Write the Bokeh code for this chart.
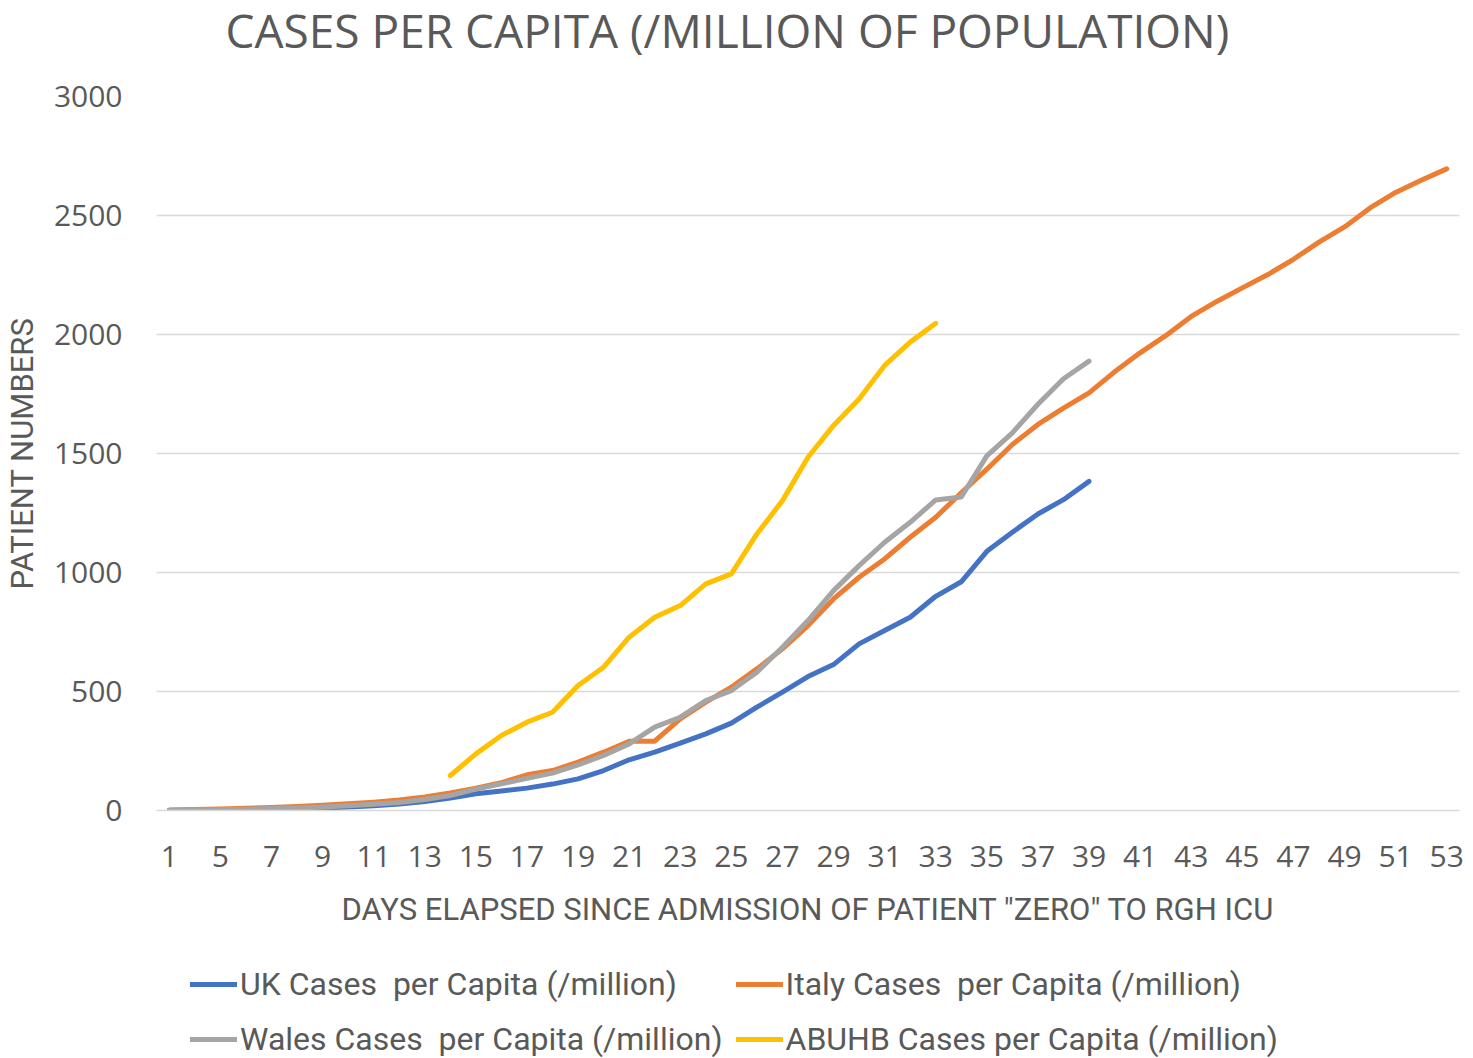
from bokeh.plotting import figure
from bokeh.models import FixedTicker, Legend, LegendItem, Range1d, Label
from bokeh.layouts import column
from bokeh.embed import file_html
from bokeh.resources import INLINE

# category labels (x axis) - one per data point
days = [1, 3, 5, 6, 7, 8, 9, 10, 11, 12, 13, 14, 15, 16, 17, 18, 19, 20, 21, 22,
        23, 24, 25, 26, 27, 28, 29, 30, 31, 32, 33, 34, 35, 36, 37, 38, 39, 40,
        41, 42, 43, 44, 45, 46, 47, 48, 49, 50, 51, 52, 53]

uk = [0, 1, 2, 4, 6, 8, 11, 15, 20, 27, 38, 52, 70, 82, 94, 111, 133, 168, 213,
      245, 283, 322, 367, 434, 497, 563, 613, 700, 756, 812, 900, 961, 1089, 1169,
      1246, 1306, 1383]
italy = [2, 4, 6, 9, 13, 17, 22, 28, 35, 44, 57, 74, 94, 117, 150, 168, 203, 245,
         291, 291, 385, 455, 518, 595, 679, 777, 889, 980, 1057, 1148, 1232, 1335,
         1434, 1538, 1622, 1691, 1755, 1843, 1923, 1995, 2076, 2139, 2196, 2252,
         2316, 2388, 2452, 2532, 2597, 2648, 2696]
wales = [1, 2, 3, 5, 8, 11, 15, 20, 26, 34, 46, 63, 90, 112, 135, 157, 192, 231,
         280, 350, 392, 462, 504, 581, 686, 798, 924, 1029, 1127, 1211, 1305, 1317,
         1490, 1587, 1707, 1814, 1888]
abuhb_first_day = 14
abuhb = [147, 238, 315, 371, 413, 525, 602, 728, 812, 861, 952, 994, 1162, 1302,
         1484, 1618, 1729, 1870, 1968, 2047]

series_names = ["UK Cases  per Capita (/million)",
                "Italy Cases  per Capita (/million)",
                "Wales Cases  per Capita (/million)",
                "ABUHB Cases per Capita (/million)"]
series_colors = ["#4472C4", "#ED7D31", "#A5A5A5", "#FFC000"]

y_ticks = [0, 500, 1000, 1500, 2000, 2500, 3000]

chart_title = "CASES PER CAPITA (/MILLION OF POPULATION)"

TXT = "#595959"
W = 1473


def strip(height):
    f = figure(width=W, height=height, output_backend="svg", toolbar_location=None,
               x_range=Range1d(0, 1), y_range=Range1d(0, 1), title=None,
               x_axis_location=None, y_axis_location=None,
               min_border=0, min_border_left=0, min_border_right=0,
               min_border_top=0, min_border_bottom=0)
    f.outline_line_color = None
    f.grid.visible = False
    f.background_fill_color = "white"
    f.border_fill_color = "white"
    return f


# title strip
t = strip(70)
t.add_layout(Label(x=69, y=41, x_units="screen", y_units="screen", text=chart_title,
                   text_align="left", text_baseline="alphabetic",
                   text_font="Open Sans", text_font_size="46px", text_color=TXT))

# main chart
p = figure(width=W, height=880, output_backend="svg", toolbar_location=None,
           title=None,
           x_range=Range1d(-0.5, len(days) - 0.5), y_range=Range1d(0, 3000),
           min_border_left=156, min_border_right=14, min_border_top=26,
           min_border_bottom=140)
p.outline_line_color = None
p.background_fill_color = "white"
p.border_fill_color = "white"

p.xgrid.visible = False
p.ygrid.grid_line_color = "#D9D9D9"
p.ygrid.grid_line_width = 1.5

xa = p.xaxis[0]
xa.ticker = FixedTicker(ticks=list(range(0, len(days), 2)))
xa.major_label_overrides = {i: str(days[i]) for i in range(len(days))}
xa.axis_line_color = "#D9D9D9"
xa.axis_line_width = 1.5
xa.major_tick_line_color = None
xa.minor_tick_line_color = None
xa.major_tick_out = 0
xa.major_label_standoff = 35
xa.major_label_text_font = "Open Sans"
xa.major_label_text_font_size = "30px"
xa.major_label_text_color = TXT
xa.axis_label = 'DAYS ELAPSED SINCE ADMISSION OF PATIENT "ZERO" TO RGH ICU'
xa.axis_label_text_font = "Roboto"
xa.axis_label_text_font_size = "31px"
xa.axis_label_text_font_style = "normal"
xa.axis_label_text_color = TXT
xa.axis_label_standoff = 21

ya = p.yaxis[0]
ya.ticker = FixedTicker(ticks=y_ticks)
ya.axis_line_color = None
ya.major_tick_line_color = None
ya.minor_tick_line_color = None
ya.major_tick_out = 0
ya.major_label_standoff = 34
ya.major_label_text_font = "Open Sans"
ya.major_label_text_font_size = "30px"
ya.major_label_text_color = TXT
ya.axis_label = "PATIENT NUMBERS"
ya.axis_label_text_font = "Roboto"
ya.axis_label_text_font_size = "31px"
ya.axis_label_text_font_style = "normal"
ya.axis_label_text_color = TXT
ya.axis_label_standoff = 10

lw = 5
a0 = days.index(abuhb_first_day)
xs = [list(range(len(uk))), list(range(len(italy))), list(range(len(wales))),
      list(range(a0, a0 + len(abuhb)))]
ys = [uk, italy, wales, abuhb]
for x, y, c in zip(xs, ys, series_colors):
    p.line(x, y, line_color=c, line_width=lw, line_join="round", line_cap="round")

# legend strip below the chart (sample lines lie outside its ranges)
q = strip(108)
items = []
for name, c in zip(series_names, series_colors):
    r = q.line([5, 6], [5, 6], line_color=c, line_width=lw, line_cap="round")
    items.append(LegendItem(label=name, renderers=[r]))

legend = Legend(items=items, orientation="horizontal", ncols=2)
legend.location = (34, -2)
legend.padding = 0
legend.margin = 0
legend.border_line_color = None
legend.background_fill_alpha = 0
legend.glyph_width = 47
legend.glyph_height = 42
legend.label_height = 42
legend.label_standoff = 3
legend.spacing = 13
legend.label_text_font = "Roboto"
legend.label_text_font_size = "32px"
legend.label_text_color = TXT
q.add_layout(legend, "center")

open("out.html", "w").write(file_html(column(t, p, q), INLINE))
